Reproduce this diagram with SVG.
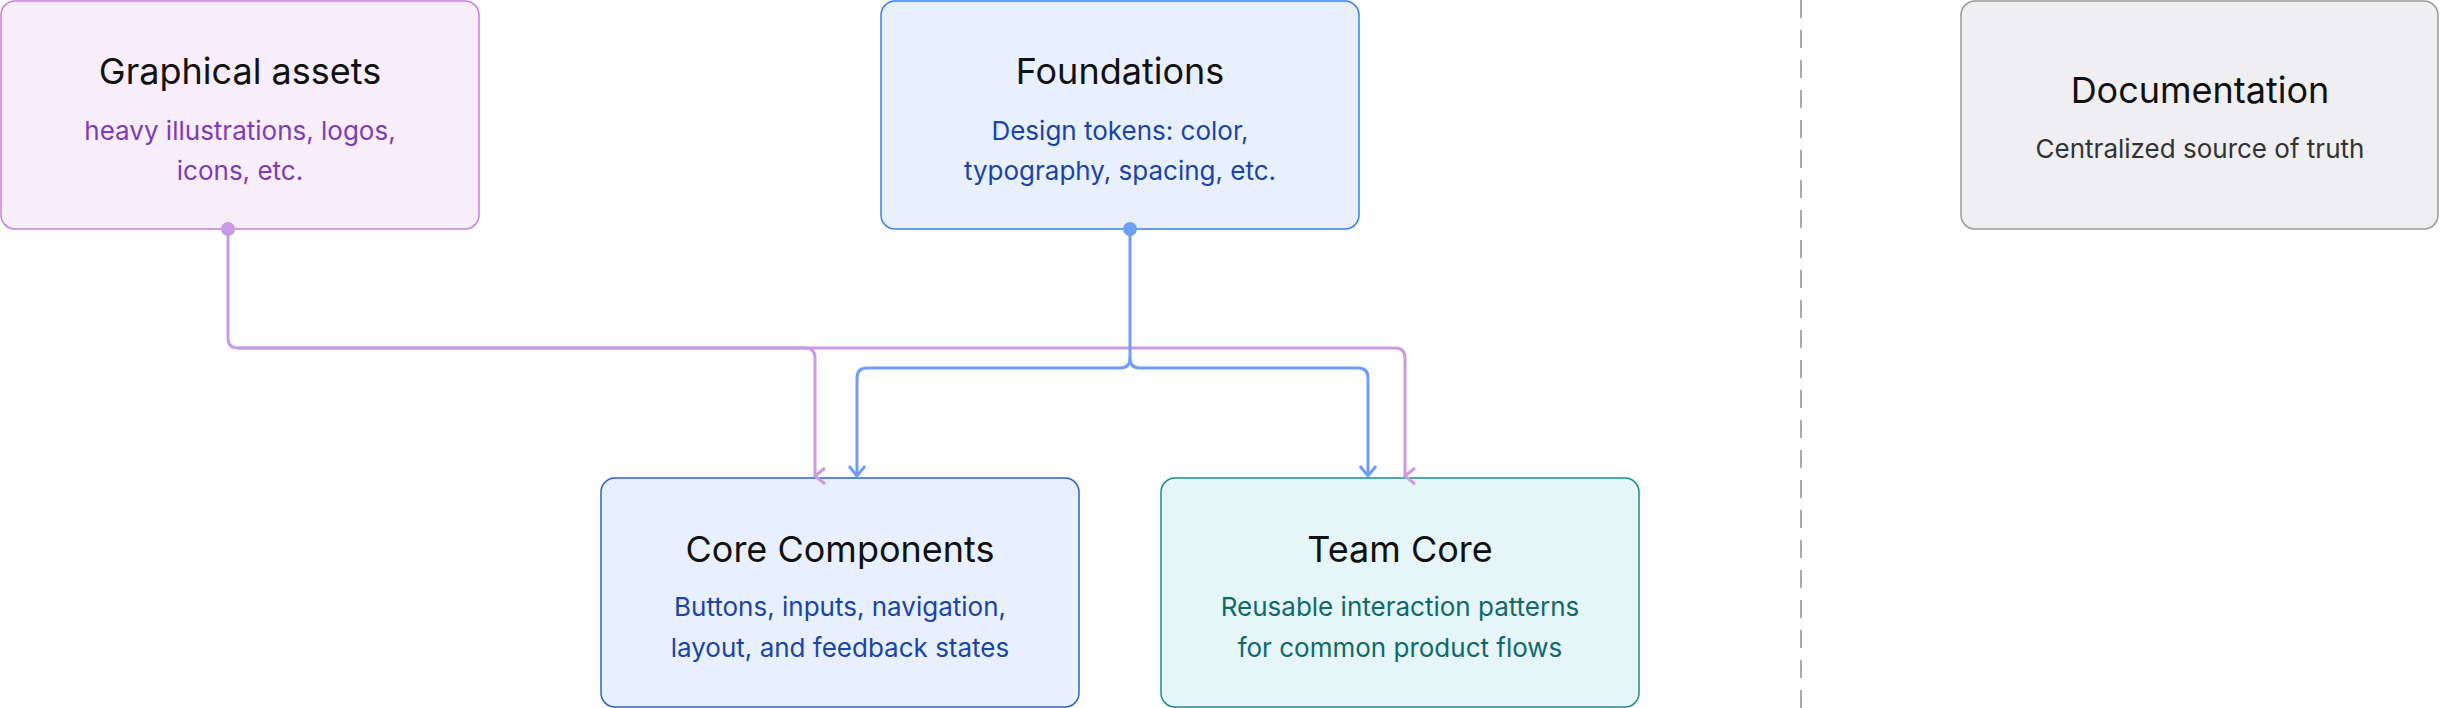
<svg xmlns="http://www.w3.org/2000/svg" width="2440" height="708" viewBox="0 0 2440 708">
<style>
text{font-family:Inter,"Noto Sans","Liberation Sans",sans-serif;text-anchor:middle}
.t{font-size:36px;fill:#111}
.s{font-size:26px}
.cp{fill:none;stroke:#c99be3;stroke-width:3}
.cb{fill:none;stroke:#6f9ef5;stroke-width:3}
</style>
<defs>
<marker id="ap" viewBox="0 0 20 20" refX="10" refY="18" markerWidth="20" markerHeight="20" markerUnits="userSpaceOnUse" orient="auto-start-reverse"><path d="M2 8 L10 18 L18 8" fill="none" stroke="#c99be3" stroke-width="3"/></marker>
<marker id="ab" viewBox="0 0 20 20" refX="10" refY="18" markerWidth="20" markerHeight="20" markerUnits="userSpaceOnUse"><path d="M2 8 L10 18 L18 8" fill="none" stroke="#6f9ef5" stroke-width="3"/></marker>
</defs>
<line x1="1801" y1="0" x2="1801" y2="708" stroke="#aaa" stroke-width="2" stroke-dasharray="18 12"/>
<g id="graphical-assets">
<rect x="1" y="1" width="478" height="228" rx="14" fill="#f7edfb" stroke="#c57fde" stroke-width="1.5"/>
<text class="t" x="240" y="84">Graphical assets</text>
<text class="s" x="240" y="140" fill="#7e3cb4">heavy illustrations, logos,</text>
<text class="s" x="240" y="180" fill="#7e3cb4">icons, etc.</text>
</g>
<g id="foundations">
<rect x="881" y="1" width="478" height="228" rx="14" fill="#e8f0fd" stroke="#3b7ff2" stroke-width="1.5"/>
<text class="t" x="1120" y="84">Foundations</text>
<text class="s" x="1120" y="140" fill="#1a44a8">Design tokens: color,</text>
<text class="s" x="1120" y="180" fill="#1a44a8">typography, spacing, etc.</text>
</g>
<g id="documentation">
<rect x="1961" y="1" width="477" height="228" rx="14" fill="#efeef0" stroke="#9a9a9a" stroke-width="1.5"/>
<text class="t" x="2200" y="103">Documentation</text>
<text class="s" x="2200" y="158" fill="#333">Centralized source of truth</text>
</g>
<g id="core-components">
<rect x="601" y="478" width="478" height="229" rx="14" fill="#e8f0fd" stroke="#2a63c8" stroke-width="1.5"/>
<text class="t" x="840" y="562">Core Components</text>
<text class="s" x="840" y="616" fill="#1a44a8">Buttons, inputs, navigation,</text>
<text class="s" x="840" y="657" fill="#1a44a8">layout, and feedback states</text>
</g>
<g id="team-core">
<rect x="1161" y="478" width="478" height="229" rx="14" fill="#e6f5f8" stroke="#1d8a94" stroke-width="1.5"/>
<text class="t" x="1400" y="562">Team Core</text>
<text class="s" x="1400" y="616" fill="#0e6a6a">Reusable interaction patterns</text>
<text class="s" x="1400" y="657" fill="#0e6a6a">for common product flows</text>
</g>
<g id="connectors">
<circle cx="228" cy="229" r="7" fill="#c99be3"/>
<path class="cp" d="M228 229 V338 Q228 348 238 348 H805 Q815 348 815 358 V476" marker-end="url(#ap)"/>
<path class="cp" d="M238 348 H1395 Q1405 348 1405 358 V476" marker-end="url(#ap)"/>
<circle cx="1130" cy="229" r="7" fill="#6f9ef5"/>
<path class="cb" d="M1130 229 V358 Q1130 368 1120 368 H867 Q857 368 857 378 V476" marker-end="url(#ab)"/>
<path class="cb" d="M1130 358 Q1130 368 1140 368 H1358 Q1368 368 1368 378 V476" marker-end="url(#ab)"/>
</g>
</svg>
